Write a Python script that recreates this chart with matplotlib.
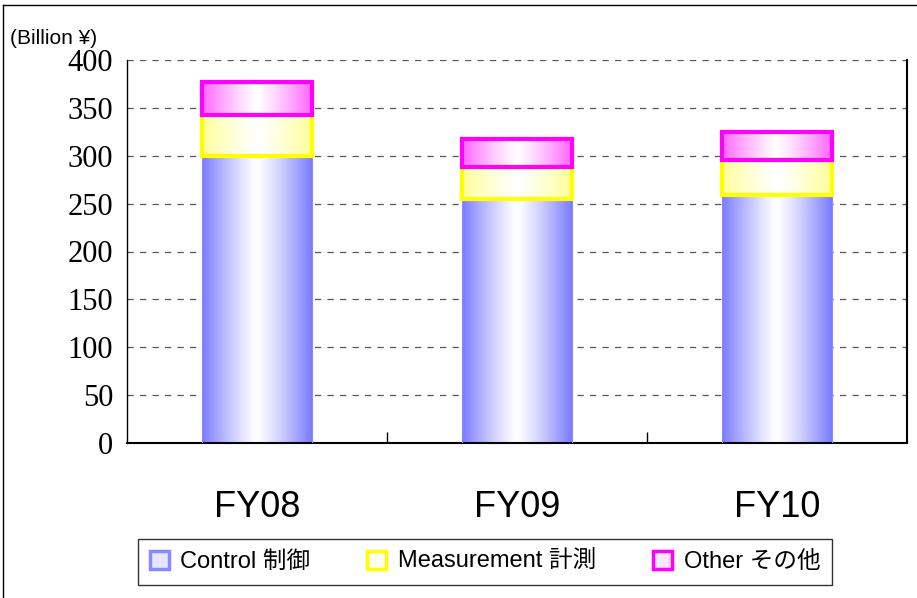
import numpy as np
import matplotlib.pyplot as plt
from matplotlib.patches import Patch
from matplotlib.lines import Line2D
from matplotlib.colors import to_rgb

years = ['FY08', 'FY09', 'FY10']
control = [300, 255, 259]
measurement = [43, 33, 37]
other = [34, 29, 29]

series = [
    ('Control 制御', control, '#7b7bff', '#8a8aff', 0.8),
    ('Measurement 計測', measurement, '#ffff99', '#ffff00', 3.0),
    ('Other その他', other, '#ff66ff', '#ff00ff', 3.0),
]

plt.rcParams['font.family'] = ['Liberation Sans', 'Noto Sans CJK JP']

fig = plt.figure(figsize=(9.17, 5.98), dpi=100)
ax = fig.add_axes([127/917, 1 - 443/598, (907-127)/917, (443-60)/598])

def gradient(color):
    c = np.array(to_rgb(color))
    t = np.abs(np.linspace(-1, 1, 200))  # 1 at edges, 0 in centre
    t = t ** 1.2
    img = (1 - t)[:, None] * np.ones(3) + t[:, None] * c
    return img[None, :, :]

width = 0.42
x = np.arange(len(years))
bottom = np.zeros(len(years))
for name, vals, fill, edge, lw in series:
    bars = ax.bar(x, vals, width, bottom=bottom, facecolor='none',
                  edgecolor=edge, linewidth=lw, zorder=3)
    for b in bars:
        x0, y0 = b.get_x(), b.get_y()
        im = ax.imshow(gradient(fill), extent=(x0, x0 + b.get_width(), y0, y0 + b.get_height()),
                       aspect='auto', zorder=2, interpolation='bilinear')
        im.set_clip_path(b)
    bottom += np.array(vals)

ax.set_xlim(-0.5, 2.5)
ax.set_ylim(0, 400)
ax.set_yticks(range(0, 401, 50))
ax.set_yticklabels([str(v) for v in range(0, 401, 50)],
                   family='Liberation Serif', fontsize=22)
ax.yaxis.grid(True, linestyle=(0, (5, 5)), color='#555555', linewidth=0.9)
ax.set_axisbelow(True)
ax.tick_params(axis='y', length=0, pad=10)

ax.set_xticks(x)
ax.set_xticklabels(years, fontsize=26)
ax.tick_params(axis='x', length=0, pad=34)
ax.set_xticks([0.5, 1.5], minor=True)
ax.tick_params(axis='x', which='minor', direction='in', length=8, width=1, color='black')

ax.spines['top'].set_visible(False)
for s in ['left', 'right', 'bottom']:
    ax.spines[s].set_color('black')
    ax.spines[s].set_linewidth(1)
ax.spines['right'].set_linewidth(1.5)
ax.spines['bottom'].set_linewidth(1.5)

fig.text(10/917, 1 - 38/598, '(Billion ¥)', fontsize=15, va='center', ha='left')

handles = [Patch(facecolor='#e6e6ff', edgecolor='#8a8aff', linewidth=2.5),
           Patch(facecolor='#fffff0', edgecolor='#ffff00', linewidth=2.5),
           Patch(facecolor='#ffe6ff', edgecolor='#ff00ff', linewidth=2.5)]
leg = fig.legend(handles, [s[0] for s in series], ncol=3, loc='center',
                 bbox_to_anchor=(485/917, 1 - 562/598), fontsize=17,
                 frameon=True, fancybox=False, edgecolor='black',
                 handlelength=0.8, handleheight=0.8, handletextpad=0.5,
                 columnspacing=2.4, borderpad=0.5)
leg.get_frame().set_linewidth(1)

fig.add_artist(Line2D([3/917, 3/917], [0, 1 - 5/598], color='black', linewidth=1))
fig.add_artist(Line2D([3/917, 1], [1 - 5/598, 1 - 5/598], color='black', linewidth=1))

fig.savefig('out.png', dpi=100)
